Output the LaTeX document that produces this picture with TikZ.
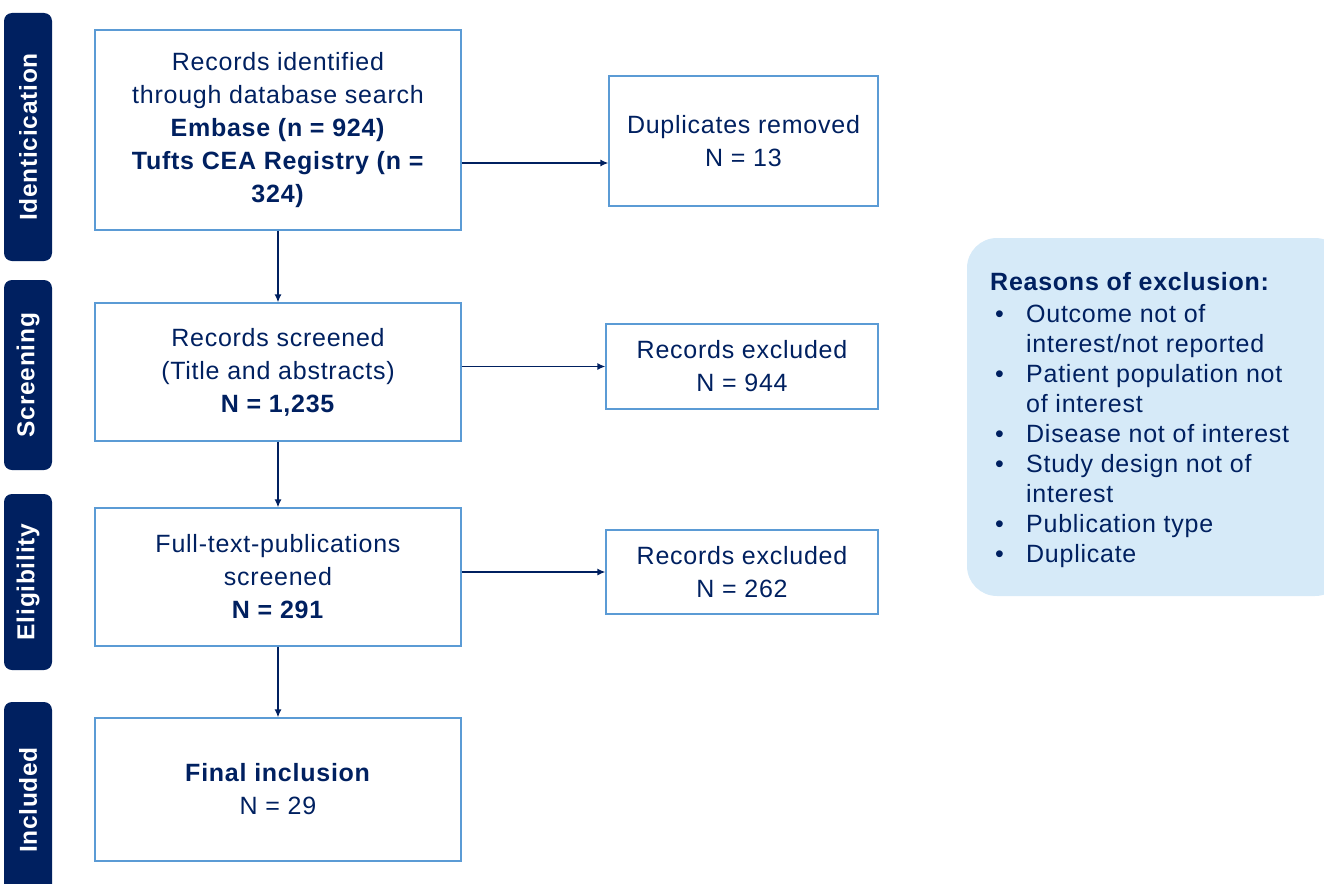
\documentclass[tikz,border=0pt]{standalone}
\usepackage{fontspec}
\setmainfont{Liberation Sans}[LetterSpace=3]
\usetikzlibrary{arrows.meta}
\definecolor{navy}{HTML}{002060}
\definecolor{boxblue}{HTML}{5B9BD5}
\definecolor{lightfill}{HTML}{D6EAF8}
\tikzset{
  side/.style={fill=navy, rounded corners=8pt, text=white, font=\fontsize{24.5pt}{28pt}\selectfont\bfseries, rotate=90, minimum height=48pt, inner sep=0pt},
  mainbox/.style={draw=boxblue, line width=1.3pt, text=navy, align=center, inner sep=0pt, font=\fontsize{25pt}{33pt}\selectfont},
  arr/.style={draw=navy, line width=1.3pt, -{Latex[length=8pt,width=7pt]}},
}
\begin{document}
\begin{tikzpicture}[x=1pt,y=-1pt]
\useasboundingbox (0,0) rectangle (1324,883);
% sidebars
\node[side, minimum width=248pt] (s1) at (28,137) {Identicication};
\node[side, minimum width=190pt] (s2) at (28,375) {Screening};
\node[side, minimum width=176pt] (s3) at (28,582) {Eligibility};
\node[side, minimum width=196pt] (s4) at (28,800) {Included};
% main boxes
\node[mainbox, minimum width=366pt, minimum height=200pt] (n1) at (278,130)
  {Records identified\\through database search\\\textbf{Embase (n = 924)}\\\textbf{Tufts CEA Registry (n =}\\\textbf{324)}};
\node[mainbox, minimum width=366pt, minimum height=138pt] (n2) at (278,372)
  {Records screened\\(Title and abstracts)\\\textbf{N = 1,235}};
\node[mainbox, minimum width=366pt, minimum height=138pt] (n3) at (278,577)
  {Full-text-publications\\screened\\\textbf{N = 291}};
\node[mainbox, minimum width=366pt, minimum height=143pt] (n4) at (278,789.5)
  {\textbf{Final inclusion}\\N = 29};
% right boxes
\node[mainbox, minimum width=269pt, minimum height=130pt] (d1) at (743.5,141)
  {Duplicates removed\\N = 13};
\node[mainbox, minimum width=272pt, minimum height=85pt] (d2) at (742,366.5)
  {Records excluded\\N = 944};
\node[mainbox, minimum width=272pt, minimum height=84pt] (d3) at (742,572)
  {Records excluded\\N = 262};
% reasons box
\fill[lightfill, rounded corners=30pt] (967,238) rectangle (1345,596);
\node[anchor=north west, inner sep=0pt, text=navy, align=left, font=\fontsize{25pt}{30pt}\selectfont] (r) at (990,272)
  {\textbf{Reasons of exclusion:}\\[2pt]
   \hspace*{5pt}\makebox[31pt][l]{•}Outcome not of\\
   \hspace*{36pt}interest/not reported\\
   \hspace*{5pt}\makebox[31pt][l]{•}Patient population not\\
   \hspace*{36pt}of interest\\
   \hspace*{5pt}\makebox[31pt][l]{•}Disease not of interest\\
   \hspace*{5pt}\makebox[31pt][l]{•}Study design not of\\
   \hspace*{36pt}interest\\
   \hspace*{5pt}\makebox[31pt][l]{•}Publication type\\
   \hspace*{5pt}\makebox[31pt][l]{•}Duplicate};
% arrows
\draw[arr] (n1.south) -- (n2.north);
\draw[arr] (n2.south) -- (n3.north);
\draw[arr] (n3.south) -- (n4.north);
\draw[arr] (n1.east) ++(0,33) coordinate (a1) -- (a1 -| d1.west);
\draw[arr] (d2.west -| n2.east) -- (d2.west);
\draw[arr] (d3.west -| n3.east) -- (d3.west);
\end{tikzpicture}
\end{document}
